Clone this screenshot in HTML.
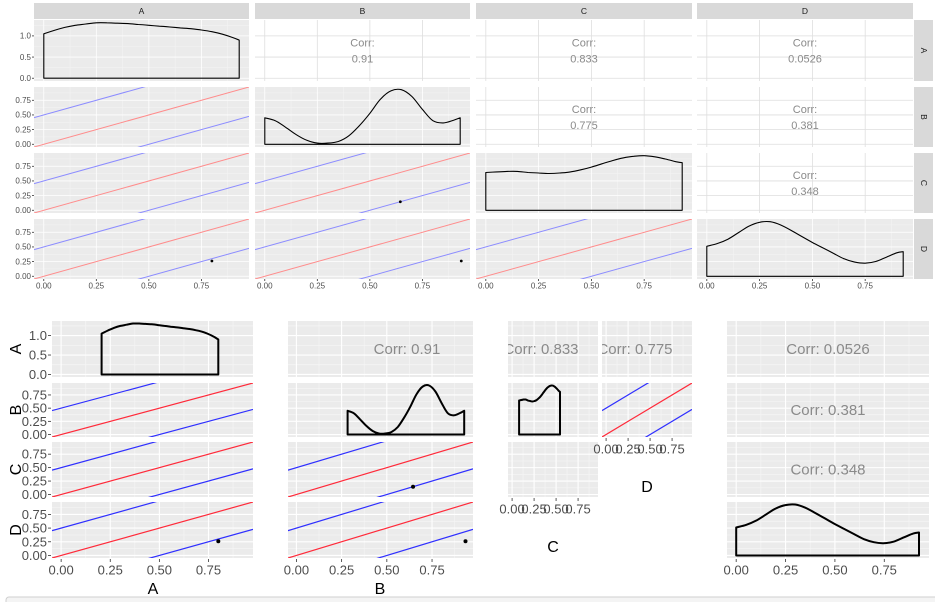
<!DOCTYPE html>
<html><head><meta charset="utf-8"><style>
html,body{margin:0;padding:0;background:#fff;}
svg{display:block;font-family:"Liberation Sans",sans-serif;}
</style></head><body>
<svg id="c" width="935" height="602" viewBox="0 0 935 602"></svg>
<script>
// ---- data ----
const vars = ['A','B','C','D'];
const corrPairs = [['A','B'],['A','C'],['A','D'],['B','C'],['B','D'],['C','D']];
const corrValues = ['0.91','0.833','0.0526','0.775','0.381','0.348'];
const densX = [0,0.05,0.1,0.15,0.2,0.25,0.3,0.35,0.4,0.45,0.5,0.55,0.6,0.65,0.7,0.75,0.8,0.85,0.9,0.93];
const densA = [1.05,1.13,1.2,1.25,1.28,1.31,1.31,1.3,1.29,1.27,1.25,1.23,1.21,1.19,1.17,1.14,1.1,1.04,0.96,0.9];
const densB = [0.47,0.42,0.3,0.17,0.07,0.02,0.02,0.05,0.15,0.33,0.55,0.8,0.95,0.97,0.85,0.62,0.42,0.38,0.43,0.47];
const densC = [0.70,0.71,0.72,0.72,0.70,0.69,0.68,0.69,0.71,0.75,0.80,0.86,0.92,0.97,1.0,1.01,0.99,0.95,0.90,0.88];
const densD = [0.55,0.60,0.68,0.80,0.92,0.99,1.0,0.94,0.84,0.73,0.62,0.52,0.42,0.32,0.26,0.24,0.27,0.35,0.43,0.45];
const lineIntercepts = [0.5,0,-0.5];
const pointX = [0.8,0.645,0.935];
const pointY = [0.26,0.145,0.26];
const pointRow = ['D','C','D'];
const pointCol = ['A','B','B'];
const xTicks = [0,0.25,0.5,0.75];
const xTickLabels = ['0.00','0.25','0.50','0.75'];
const densTicks = [0,0.5,1.0];
const densTickLabels = ['0.0','0.5','1.0'];

const dens = {A:densA,B:densB,C:densC,D:densD};
const dom = [-0.0465,0.9765];
const NS = 'http://www.w3.org/2000/svg';
const svg = document.getElementById('c');
let clipN = 0;
function el(tag, attrs, parent){
  const e = document.createElementNS(NS, tag);
  for (const k in attrs) e.setAttribute(k, attrs[k]);
  (parent||svg).appendChild(e);
  return e;
}
function lin(d0,d1,r0,r1){return v=>r0+(v-d0)/(d1-d0)*(r1-r0);}
function corrOf(a,b){
  for(let i=0;i<corrPairs.length;i++){const p=corrPairs[i];
    if((p[0]===a&&p[1]===b)||(p[0]===b&&p[1]===a)) return corrValues[i];}
  return '';
}
function densMax(v){return Math.max(...dens[v]);}
function smooth(pts){
  let d='';
  for(let i=0;i<pts.length-1;i++){
    const p0=pts[Math.max(0,i-1)],p1=pts[i],p2=pts[i+1],p3=pts[Math.min(pts.length-1,i+2)];
    const c1x=p1[0]+(p2[0]-p0[0])/6,c1y=p1[1]+(p2[1]-p0[1])/6;
    const c2x=p2[0]-(p3[0]-p1[0])/6,c2y=p2[1]-(p3[1]-p1[1])/6;
    d+=' C'+c1x.toFixed(1)+','+c1y.toFixed(1)+' '+c2x.toFixed(1)+','+c2y.toFixed(1)+' '+p2[0].toFixed(1)+','+p2[1].toFixed(1);
  }
  return d;
}

function panel(x0,x1,y0,y1,opt){
  const g = el('g',{});
  
  
  const id='cp'+(clipN++);
  const cp = el('clipPath',{id:id},g);
  el('rect',{x:x0,y:y0,width:x1-x0,height:y1-y0},cp);
  const white = opt.white;
  const bg = el('rect',{x:x0,y:y0,width:x1-x0,height:y1-y0,fill: white?'#ffffff':'#ebebeb'},g);
  
  
  const sx = lin(dom[0],dom[1],x0,x1);
  let yd = dom, yt = [0,0.25,0.5,0.75];
  if (opt.yDens){ const m=densMax(opt.yDens); yd=[-0.05*m,1.05*m]; yt=densTicks; }
  const sy = lin(yd[0],yd[1],y1,y0);
  const gc = el('g',{'clip-path':'url(#'+id+')'},g);
  const majC = white ? '#dedede' : '#ffffff';
  const lw = opt.big ? 1.1 : 0.8;
  if(!white){
    for(let i=0;i<xTicks.length;i++){const v=xTicks[i]+0.125;
      el('line',{x1:sx(v),x2:sx(v),y1:y0,y2:y1,stroke:'#f5f5f5','stroke-width':lw*0.6},gc);}
    const ystep = yt[1]-yt[0];
    for(let i=-1;i<yt.length+1;i++){const v=yt[0]+ystep*(i+0.5);
      el('line',{x1:x0,x2:x1,y1:sy(v),y2:sy(v),stroke:'#f5f5f5','stroke-width':lw*0.6},gc);}
  }
  for(const v of xTicks) el('line',{x1:sx(v),x2:sx(v),y1:y0,y2:y1,stroke:majC,'stroke-width':lw},gc);
  for(const v of yt) el('line',{x1:x0,x2:x1,y1:sy(v),y2:sy(v),stroke:majC,'stroke-width':lw},gc);
  if (opt.type==='dens'){
    const v=opt.v, arr=dens[v], m=densMax(v);
    const dr = opt.densRange || [0,0.93];
    const dx = lin(densX[0],densX[densX.length-1],sx(dr[0]),sx(dr[1]));
    const dy = lin(-0.05*m,1.05*m,y1,y0);
    const pts=[];
    for(let i=0;i<arr.length;i++) pts.push([dx(densX[i]),dy(arr[i])]);
    let d='M'+dx(densX[0]).toFixed(1)+','+dy(0).toFixed(1)+' L'+pts[0][0].toFixed(1)+','+pts[0][1].toFixed(1);
    d+=smooth(pts);
    d+=' L'+dx(densX[densX.length-1]).toFixed(1)+','+dy(0).toFixed(1)+' Z';
    const p=el('path',{d:d,fill:'none',stroke:'#000','stroke-width':opt.big?2:1.1,'stroke-linejoin':'round'},gc);
    
    
  } else if (opt.type==='line'){
    for(let i=0;i<lineIntercepts.length;i++){
      const b=lineIntercepts[i];
      const ln=el('line',{x1:sx(dom[0]),y1:sy(dom[0]+b),x2:sx(dom[1]),y2:sy(dom[1]+b),
        stroke: b===0 ? (opt.big?'#ff2a3a':'#ff8c8c') : (opt.big?'#2f2fff':'#8c8cff'),
        'stroke-width': opt.big?1.2:1},gc);
      
      
    }
    for(let i=0;i<pointX.length;i++){
      if(pointRow[i]===opt.row && pointCol[i]===opt.col){
        const c=el('circle',{cx:sx(pointX[i]),cy:sy(pointY[i]),r:opt.big?2:1.4,fill:'#000'},gc);
        
        
      }
    }
  } else if (opt.type==='corr'){
    const val = corrOf(opt.row,opt.col);
    const cy=(y0+y1)/2;
    if(opt.big){
      const t=el('text',{x:opt.tx||(x0+x1)/2,y:cy+5,'text-anchor':'middle','font-size':15,fill:'#8a8a8a'},gc);
      t.textContent='Corr: '+val;
      
      
    } else {
      const t1=el('text',{x:(x0+x1)/2,y:cy-4,'text-anchor':'middle','font-size':11,fill:'#8a8a8a'},gc);
      t1.textContent='Corr:';
      
      
      const t2=el('text',{x:(x0+x1)/2,y:cy+12,'text-anchor':'middle','font-size':11,fill:'#8a8a8a'},gc);
      t2.textContent=val;
      
      
    }
  }
  return {sx:sx,sy:sy,yt:yt};
}
function xAxis(sc,y,fs,tickLen,name){
  const g=el('g',{});
  
  
  for(let i=0;i<xTicks.length;i++){
    el('line',{x1:sc(xTicks[i]),x2:sc(xTicks[i]),y1:y,y2:y+tickLen,stroke:'#333','stroke-width':0.8},g);
    const t=el('text',{x:sc(xTicks[i]),y:y+tickLen+fs*0.95,'text-anchor':'middle','font-size':fs,fill:'#4d4d4d'},g);
    t.textContent=xTickLabels[i];
  }
}
function yAxis(sc,ticks,labels,x,fs,tickLen,name){
  const g=el('g',{});
  
  
  for(let i=0;i<ticks.length;i++){
    el('line',{x1:x-tickLen,x2:x,y1:sc(ticks[i]),y2:sc(ticks[i]),stroke:'#333','stroke-width':0.8},g);
    const t=el('text',{x:x-tickLen-1,y:sc(ticks[i])+fs*0.35,'text-anchor':'end','font-size':fs,fill:'#4d4d4d'},g);
    t.textContent=labels[i];
  }
}

// ---- top plot ----
const tCols=[[34,249],[255,470],[476,692],[697,913]];
const tRows=[[20,81],[87,147],[153,213],[219,279]];
for(let c=0;c<4;c++){
  const s=el('rect',{x:tCols[c][0],y:3,width:tCols[c][1]-tCols[c][0],height:16,fill:'#d9d9d9'});
  
  
  const t=el('text',{x:(tCols[c][0]+tCols[c][1])/2,y:14,'text-anchor':'middle','font-size':8.5,fill:'#1a1a1a'});
  t.textContent=vars[c];
}
for(let r=0;r<4;r++){
  const s=el('rect',{x:914,y:tRows[r][0],width:19,height:tRows[r][1]-tRows[r][0],fill:'#d9d9d9'});
  
  
  const cy=(tRows[r][0]+tRows[r][1])/2;
  const t=el('text',{x:921,y:cy,'text-anchor':'middle','font-size':8.5,fill:'#1a1a1a',transform:'rotate(90 921 '+cy+')'});
  t.textContent=vars[r];
}
for(let r=0;r<4;r++){
  for(let c=0;c<4;c++){
    let opt={row:vars[r],col:vars[c],name:'top-panel-'+vars[r]+'-'+vars[c]};
    if(r===c){opt.type='dens';opt.v=vars[r];if(r===0)opt.yDens='A';}
    else if(r>c){opt.type='line';}
    else {opt.type='corr';opt.white=true;if(r===0)opt.yDens='A';}
    const p=panel(tCols[c][0],tCols[c][1],tRows[r][0],tRows[r][1],opt);
    if(c===0){
      if(r===0) yAxis(p.sy,densTicks,densTickLabels,34,8,2,'top-y-axis-A');
      else yAxis(p.sy,xTicks,xTickLabels,34,8,2,'top-y-axis-'+vars[r]);
    }
    if(r===3) xAxis(p.sx,279,8,2,'top-x-axis-'+vars[c]);
  }
}

// ---- bottom plot ----
const bRows=[[321,377],[383,437],[442,497],[502,558]];
const bPanels=[
  {x:[52,253],r:0,type:'dens',v:'A',densRange:[0.206,0.80],yDens:'A'},
  {x:[52,253],r:1,type:'line',row:'B',col:'A'},
  {x:[52,253],r:2,type:'line',row:'C',col:'A'},
  {x:[52,253],r:3,type:'line',row:'D',col:'A'},
  {x:[288,473],r:0,type:'corr',row:'A',col:'B',yDens:'A',tx:407},
  {x:[288,473],r:1,type:'dens',v:'B',densRange:[0.283,0.928]},
  {x:[288,473],r:2,type:'line',row:'C',col:'B'},
  {x:[288,473],r:3,type:'line',row:'D',col:'B'},
  {x:[508,598],r:0,type:'corr',row:'A',col:'C',tx:541,yDens:'A'},
  {x:[508,598],r:1,type:'dens',v:'C',densRange:[0.08,0.545]},
  {x:[508,598],r:2,type:'none'},
  {x:[602,692],r:0,type:'corr',row:'B',col:'C',tx:635,yDens:'A'},
  {x:[602,692],r:1,type:'line',row:'D',col:'C'},
  {x:[727,929],r:0,type:'corr',row:'A',col:'D',yDens:'A'},
  {x:[727,929],r:1,type:'corr',row:'B',col:'D'},
  {x:[727,929],r:2,type:'corr',row:'C',col:'D'},
  {x:[727,929],r:3,type:'dens',v:'D',densRange:[0,0.926]}
];
const axisInfo={};
for(const bp of bPanels){
  const o=Object.assign({},bp,{big:true,name:'bottom-panel-'+bp.x[0]+'-'+bp.r});
  const p=panel(bp.x[0],bp.x[1],bRows[bp.r][0],bRows[bp.r][1],o);
  if(bp.x[0]===52){
    if(bp.r===0) yAxis(p.sy,densTicks,densTickLabels,51,13,3,'bottom-y-axis-A');
    else yAxis(p.sy,xTicks,xTickLabels,51,13,3,'bottom-y-axis-'+vars[bp.r]);
  }
  axisInfo[bp.x[0]]={sx:p.sx,bottom:bRows[bp.r][1]};
}
const groupTitle={52:['A',153,594],288:['B',380,594],508:['C',553,552],602:['D',647,492],727:[null]};
for(const k in axisInfo){
  const a=axisInfo[k];
  xAxis(a.sx,a.bottom+1,13,3,'bottom-x-axis-'+k);
  const gt=groupTitle[k];
  if(gt[0]){
    const t=el('text',{x:gt[1],y:gt[2],'text-anchor':'middle','font-size':16,fill:'#000'});
    t.textContent=gt[0];
    
    
  }
}
for(let r=0;r<4;r++){
  const cy=(bRows[r][0]+bRows[r][1])/2;
  const t=el('text',{x:21,y:cy,'text-anchor':'middle','font-size':16,fill:'#000',transform:'rotate(-90 21 '+cy+')'});
  t.textContent=vars[r];
  
  
}
const fr=el('rect',{x:6,y:597,width:940,height:12,rx:3,fill:'#f4f4f4',stroke:'#cfcfcf','stroke-width':1});


</script>
</body></html>
